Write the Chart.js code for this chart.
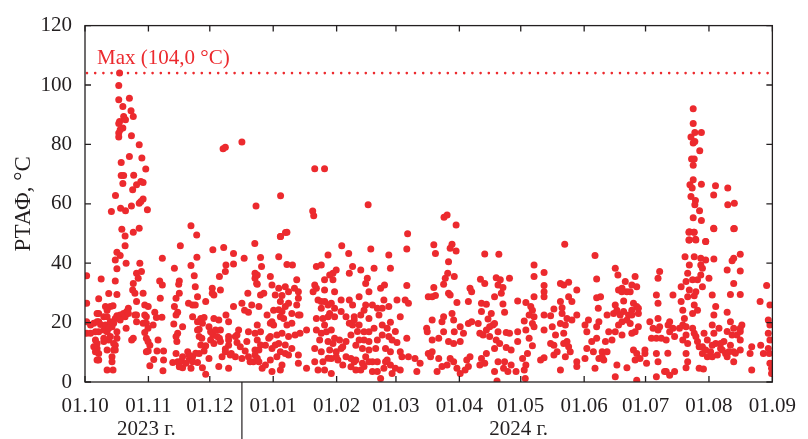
<!DOCTYPE html>
<html>
<head>
<meta charset="utf-8">
<script src="https://cdn.jsdelivr.net/npm/chart.js@4"></script>
<style>
  html, body { margin: 0; padding: 0; background: #ffffff; }
  canvas { display: block; }
</style>
</head>
<body>
<canvas id="c" width="808" height="439"></canvas>
<script>
// ---- DATA ----
// x = day counted from 01.10.2023, y = РТАФ, °C
const monthLabels = ['01.10','01.11','01.12','01.01','01.02','01.03','01.04','01.05','01.06','01.07','01.08','01.09'];
const monthDays   = [0, 31, 61, 92, 123, 152, 183, 213, 244, 274, 305, 336];
const yTickValues = [0, 20, 40, 60, 80, 100, 120];
const yearLabels  = ['2023 г.', '2024 г.'];
const yAxisTitle  = 'РТАФ, °C';
const maxValue    = 104.0;
const maxLabel    = 'Max (104,0 °C)';

// October – mid December (flat pairs: day, value)
const segOctDec = [
18.0,51.4, 19.6,49.2, 23.6,50.4, 26.5,51.8, 19.6,45.9, 15.6,43.7, 17.2,42.6, 14.8,41.1, 15.6,38.1, 20.1,40.0,
14.8,34.0, 0.8,35.8, 7.9,34.7, 26.8,40.0, 25.2,36.6, 27.6,37.2, 26.0,34.9, 23.6,33.2, 23.3,31.0, 24.4,29.9,
28.4,29.9, 25.2,27.1, 29.2,25.9, 30.9,25.4, 30.0,22.0, 24.4,22.6, 25.2,20.3, 28.4,19.8, 33.3,19.2, 34.1,23.5,
37.6,21.8, 34.9,21.7, 29.2,16.7, 30.0,14.7, 31.7,12.4, 35.7,14.1, 30.9,10.4, 35.2,10.4, 38.4,10.4, 33.6,7.6,
38.4,7.4, 31.7,5.5, 38.1,3.8, 37.8,41.7, 36.5,34.0, 37.8,32.7, 36.8,28.2, 46.6,45.9, 43.7,38.3, 46.1,34.0,
45.8,32.9, 46.1,29.9, 44.5,28.2, 43.7,25.4, 45.3,23.5, 44.5,22.6, 43.4,19.5, 47.7,18.6, 45.3,16.4, 44.9,13.6,
44.5,9.6, 45.3,6.8, 47.1,7.1, 47.7,4.8, 50.2,10.2, 51.0,7.7, 52.6,8.5, 51.8,4.6, 57.4,4.8, 55.0,6.6,
59.0,2.6, 50.6,26.5, 52.6,25.9, 53.9,25.9, 55.0,28.7, 53.9,32.1, 51.8,39.2, 54.7,42.0, 53.4,35.8, 52.6,22.0,
55.0,20.3, 56.6,21.4, 58.2,21.7, 55.8,17.8, 57.1,14.7, 59.0,12.2, 58.2,10.4, 55.8,9.6, 60.6,7.9, 59.0,27.1,
62.2,31.6, 63.0,29.3, 66.2,31.0, 65.7,35.5, 68.6,37.2, 68.9,39.4, 72.6,39.7, 72.6,43.3, 67.8,45.3, 62.5,44.5,
77.8,41.7, 79.6,29.9, 83.1,36.6, 83.9,33.2, 83.1,34.9, 81.5,25.9, 79.9,23.5, 76.7,26.5, 78.0,24.2, 72.6,25.4,
68.9,22.6, 70.2,20.3, 65.4,20.9, 63.0,21.4, 60.6,18.6, 61.4,16.9, 62.5,15.8, 63.8,17.5, 65.7,14.7, 70.2,15.3,
74.3,15.8, 75.1,17.5, 79.9,16.9, 83.1,16.4, 79.1,13.6, 75.9,11.9, 74.3,13.3, 70.2,12.4, 68.6,11.1, 71.5,9.6,
73.5,8.5, 76.7,7.9, 79.9,8.5, 83.1,9.1, 82.3,6.8, 78.3,10.4, 67.0,8.5, 65.4,5.2, 70.2,4.6, 42.9,6.6,
46.1,5.1, 49.4,6.3, 0.8,26.5, 0.8,20.3, 0.8,16.4, 6.7,28.0, 11.6,29.8, 15.6,29.5, 6.7,23.1, 10.0,25.4,
12.4,25.4, 13.7,25.7, 10.8,24.2, 9.2,22.0, 5.9,20.3, 4.3,19.8, 2.7,19.2, 7.6,19.4, 10.0,19.2, 12.4,20.3,
14.8,21.4, 15.6,22.3, 17.2,22.6, 18.8,23.1, 20.4,23.7, 21.2,24.8, 19.6,22.0, 17.2,20.9, 14.0,19.8, 13.2,18.6,
10.8,16.9, 9.2,17.5, 6.7,16.9, 5.1,16.9, 5.1,14.1, 5.9,11.3, 6.7,9.6, 5.9,7.4, 9.2,13.6, 11.6,14.1,
12.4,15.3, 15.6,16.9, 15.6,14.7, 14.8,12.4, 14.0,10.8, 10.8,10.8, 13.2,8.5, 13.2,6.8, 10.8,4.0, 13.7,4.0,
20.1,18.1, 22.8,14.1, 30.0,10.2, 51.8,52.6, 54.6,49.5, 83.0,46.6, 98.0,50.3, 95.6,49.0
];

// extra low-band readings, October – November
const segOctNovLow = [
62.2,29.9, 5.9,23.1, 10.8,22.0, 6.7,20.3, 21.2,23.1, 25.2,22.6, 29.2,22.6, 30.0,19.8, 57.4,19.8, 55.0,17.5,
64.6,15.3, 66.2,17.5, 73.5,15.3, 70.2,14.1, 66.2,13.6, 68.6,10.2, 71.0,9.1, 83.1,10.8, 80.7,6.8, 52.6,6.8,
54.1,9.7, 56.6,12.5, 61.4,14.1, 63.0,13.0, 55.8,15.3, 44.5,15.3, 47.7,8.5, 50.9,9.1, 30.8,18.1, 30.8,13.6,
23.6,14.7, 14.0,13.0, 9.2,14.7, 5.9,13.0, 4.3,11.9, 5.1,10.2, 6.7,7.4, 14.8,10.8, 2.7,16.4, 11.6,18.1
];

// October peak and isolated high values (Oct – Apr)
const segHighWinter = [
16.9,104.0, 16.5,99.8, 16.5,95.0, 21.7,95.5, 18.5,92.8, 22.5,91.3, 23.6,89.4, 18.9,89.4, 16.9,87.7, 19.8,88.3,
16.5,87.0, 18.5,85.5, 17.2,84.9, 16.5,83.8, 16.5,82.5, 22.7,82.9, 26.5,79.9, 27.8,75.4, 21.7,75.9, 17.7,73.9,
29.7,71.7, 17.7,69.5, 18.9,69.5, 23.8,69.6, 25.2,66.4, 28.4,67.2, 27.3,67.5, 18.5,66.8, 23.3,64.7, 14.9,62.8,
28.4,61.6, 17.4,58.5, 19.8,57.7, 22.7,59.3, 26.5,60.2, 27.3,60.8, 30.5,58.0, 12.9,57.4, 67.5,78.5, 68.6,79.0,
76.7,80.8, 83.6,59.3, 95.6,62.7, 112.3,71.8, 117.1,71.8, 111.3,57.6, 111.8,56.0, 138.4,59.7, 175.5,55.5, 177.0,56.2
];

// mid December – early March
const segDecMar = [
95.5,49.0, 98.7,50.4, 85.8,41.9, 86.3,38.9, 84.2,36.0, 84.2,32.9, 85.8,29.3, 87.4,29.9, 85.0,25.4, 84.2,19.2,
85.8,16.9, 84.2,14.1, 85.0,10.8, 84.2,8.0, 86.6,4.6, 91.4,3.5, 95.5,4.0, 94.7,42.2, 98.7,39.6, 101.4,39.4,
90.6,35.5, 91.4,32.7, 94.7,31.6, 97.9,32.1, 103.5,34.4, 102.4,31.6, 104.3,30.4, 93.0,29.3, 96.3,29.1, 89.0,22.6,
92.2,24.2, 95.5,27.1, 97.9,25.4, 99.5,26.5, 103.5,25.9, 101.1,23.1, 96.3,23.7, 95.5,22.0, 105.1,22.6, 92.2,19.2,
90.6,19.8, 98.7,19.2, 102.7,15.8, 105.1,16.4, 108.3,17.5, 99.5,15.3, 93.8,15.8, 89.8,14.7, 88.2,12.4, 91.4,11.3,
94.7,13.0, 97.9,9.6, 93.8,8.5, 90.6,7.4, 88.2,5.7, 101.1,11.3, 104.3,9.1, 104.3,6.3, 108.3,4.6, 112.3,32.7,
113.1,31.6, 113.1,38.9, 115.5,39.4, 118.8,42.8, 117.1,34.4, 119.6,36.0, 121.2,36.6, 122.8,37.7, 121.2,34.4, 117.1,31.0,
122.0,30.4, 113.9,27.6, 115.5,27.1, 118.8,25.9, 122.0,24.8, 125.2,27.6, 113.1,21.4, 116.3,21.4, 119.6,23.1, 122.0,22.0,
117.1,19.2, 118.0,16.9, 120.4,17.5, 113.1,17.5, 122.0,14.7, 124.4,14.1, 118.8,13.6, 114.7,14.1, 112.3,11.3, 115.5,10.2,
119.6,10.8, 122.8,10.2, 125.2,11.3, 112.3,6.8, 116.3,6.8, 120.4,7.9, 123.6,7.4, 120.4,2.9, 117.1,4.0, 125.5,45.9,
128.9,43.3, 129.2,36.6, 130.8,38.9, 134.8,37.7, 138.0,34.9, 137.2,33.2, 139.7,44.8, 141.3,38.3, 129.2,27.6, 130.8,25.9,
134.0,28.7, 137.2,25.9, 140.5,25.9, 136.4,24.2, 131.6,22.0, 134.8,22.6, 138.8,21.4, 143.7,22.6, 145.3,24.8, 144.5,31.6,
146.4,32.7, 146.1,27.6, 148.5,25.4, 148.5,42.8, 149.3,38.3, 152.5,27.6, 156.5,27.6, 158.1,26.5, 157.3,32.5, 157.3,44.8,
157.7,49.9, 130.8,19.2, 134.0,19.2, 136.4,16.9, 138.8,16.9, 141.3,18.1, 145.3,19.2, 147.7,18.1, 149.3,20.1, 148.5,15.3,
145.3,15.8, 142.9,14.1, 136.4,14.1, 130.0,15.8, 127.6,13.6, 132.4,12.4, 135.6,11.3, 138.8,10.8, 142.1,11.3, 146.9,11.3,
149.3,10.2, 152.5,13.3, 157.3,14.7, 154.1,10.2, 154.9,8.5, 158.1,8.5, 161.3,7.9, 163.8,6.3, 162.2,3.5, 127.6,8.5,
130.0,7.9, 132.4,7.4, 135.6,6.3, 138.8,6.8, 142.9,6.8, 146.9,6.8, 149.3,5.7, 151.7,4.6, 150.1,2.9, 144.5,1.2,
140.5,3.5, 134.8,4.0, 130.0,5.1, 126.0,5.7, 167.0,18.1, 167.8,9.6, 167.8,28.7
];

// extra low-band readings, mid December – February
const segDecFebLow = [
99.5,30.4, 104.3,28.2, 111.5,30.4, 117.2,27.1, 138.8,30.4, 154.1,22.0, 91.4,20.3, 85.8,12.5, 85.0,6.8, 96.3,5.7,
99.5,9.1, 113.9,4.0, 118.8,8.0, 121.2,13.0, 126.0,11.9, 122.8,8.5, 115.5,16.4, 118.8,22.0, 125.2,23.7, 127.6,22.0,
129.2,19.8, 131.6,20.9, 115.5,24.8, 120.4,26.5, 133.2,17.0, 134.0,14.1, 138.8,13.6, 137.2,8.5, 136.4,5.2, 131.6,6.8,
132.4,4.0, 140.5,6.8, 142.9,3.5, 146.1,4.6, 147.7,7.4, 150.1,14.1, 151.7,17.0, 142.9,24.8, 154.1,4.0, 96.3,16.4,
101.1,19.8, 97.1,21.4, 94.7,24.3, 104.3,22.6, 93.0,12.5, 95.5,10.2, 97.9,12.5, 90.6,15.3
];

// March – early June
const segMarJun = [
181.4,52.9, 170.5,46.2, 171.3,43.3, 179.4,46.4, 178.5,45.0, 181.4,44.1, 177.7,40.5, 177.3,36.6, 180.5,35.5, 176.1,34.9,
175.3,32.9, 170.5,31.8, 171.3,29.1, 169.7,28.7, 177.7,29.9, 178.5,29.3, 181.8,26.8, 195.4,43.1, 202.3,43.0, 193.3,34.6,
195.4,33.2, 201.0,35.1, 203.0,34.4, 201.9,32.7, 204.3,31.8, 207.5,34.9, 188.2,31.6, 189.0,30.4, 187.4,27.1, 200.2,28.7,
203.5,29.9, 204.3,26.3, 193.8,26.5, 196.2,26.2, 193.8,23.7, 198.6,23.1, 205.1,23.5, 211.5,27.3, 219.5,39.4, 219.5,35.5,
224.4,36.9, 224.4,32.5, 224.4,30.4, 224.4,28.7, 219.5,28.7, 215.5,26.8, 217.9,25.4, 218.7,24.2, 217.1,22.6, 219.5,22.0,
214.7,20.5, 218.7,19.7, 219.5,18.6, 224.4,17.5, 215.5,17.5, 211.5,16.9, 205.9,16.7, 207.5,16.4, 201.9,16.9, 199.4,19.2,
197.8,18.6, 196.2,17.5, 193.0,16.4, 194.6,15.8, 197.8,15.3, 201.0,14.1, 202.7,13.0, 200.2,11.3, 205.9,11.6, 208.3,10.8,
211.5,13.6, 217.1,14.7, 218.7,12.2, 216.3,9.6, 213.9,7.9, 215.5,5.7, 214.7,4.0, 215.2,1.2, 210.7,3.5, 208.3,5.7,
206.7,3.5, 204.6,4.6, 205.1,6.8, 201.9,6.8, 200.2,3.5, 201.4,0.3, 196.2,9.6, 193.8,7.9, 195.4,6.3, 193.0,5.7,
188.2,8.5, 186.6,7.4, 187.4,5.2, 185.8,4.0, 183.4,2.9, 181.8,4.6, 180.2,6.8, 178.5,7.9, 177.0,5.7, 174.5,5.2,
172.1,3.5, 172.9,7.9, 168.9,8.5, 169.7,10.2, 167.3,16.9, 169.7,14.1, 169.7,20.9, 174.5,20.3, 175.3,22.0, 179.4,23.1,
180.2,20.9, 183.4,18.6, 185.0,16.4, 180.5,16.9, 175.3,16.9, 172.9,14.7, 177.7,13.6, 180.2,13.0, 183.4,13.6, 187.4,19.7,
189.0,20.3, 192.2,19.7, 197.0,21.2, 200.2,19.7, 224.4,22.6, 222.7,7.4, 224.4,8.2, 229.2,12.4, 227.6,13.0, 229.2,9.1,
230.8,10.2, 232.4,4.0, 234.8,8.5, 237.2,10.2, 240.4,6.8, 240.4,5.2, 244.4,7.9, 248.5,10.2, 249.3,4.6, 247.7,13.6,
245.3,11.3, 245.3,16.9, 244.4,19.2, 246.1,20.9, 250.1,14.7, 250.1,18.6, 250.9,24.8, 250.1,28.4, 250.1,34.7, 249.3,42.6,
234.5,46.4, 240.4,31.0, 236.4,28.7, 232.4,27.1, 234.0,32.7, 232.4,33.2, 236.4,33.6, 233.2,25.0, 229.2,24.6, 227.6,22.3,
233.2,23.1, 235.6,21.4, 238.0,20.9, 232.4,19.7, 234.8,19.2, 234.0,16.4, 235.6,13.6, 236.4,11.9, 234.0,13.0, 240.4,22.6,
238.0,27.1, 228.4,18.6, 230.0,15.8
];

// June – September
const segJunSep = [
252.0,28.7, 251.2,20.3, 255.2,22.6, 258.4,23.1, 259.2,25.9, 260.0,24.2, 261.6,22.6, 263.3,23.7, 265.7,22.6, 267.3,24.2,
268.1,26.5, 269.7,25.4, 270.5,23.1, 263.3,27.3, 264.9,30.4, 262.5,31.6, 260.8,31.0, 264.1,33.8, 267.3,32.7, 269.7,32.1,
268.9,35.5, 260.5,36.0, 259.2,38.3, 260.8,19.2, 262.5,20.3, 264.9,20.9, 266.5,19.7, 270.5,18.6, 268.9,16.9, 267.3,16.4,
262.5,15.8, 259.2,16.9, 256.0,16.9, 254.4,13.6, 257.6,14.1, 252.8,10.2, 255.2,10.2, 253.6,7.4, 251.2,7.9, 260.0,5.7,
259.2,1.8, 264.9,4.8, 269.7,0.6, 268.1,10.8, 269.7,9.6, 271.3,7.9, 268.9,7.4, 273.7,9.6, 274.5,6.3, 273.7,10.8,
276.1,20.3, 280.1,21.4, 280.9,18.6, 276.9,14.7, 279.3,14.7, 281.7,14.7, 284.1,14.1, 279.3,9.6, 280.1,6.8, 283.3,3.5,
285.8,2.3, 279.3,1.8, 288.2,3.5, 285.0,19.2, 285.8,16.9, 285.8,20.3, 280.9,37.2, 280.1,34.9, 279.3,29.3, 280.1,26.5,
287.4,29.3, 291.4,32.1, 293.8,33.8, 293.3,42.2, 295.4,39.4, 297.8,42.2, 295.4,50.6, 297.8,50.4, 295.4,47.8, 298.6,47.8,
303.4,47.3, 307.4,51.6, 317.1,51.6, 301.0,41.7, 303.4,41.1, 301.0,39.4, 307.4,41.4, 316.3,40.8, 317.1,41.7, 320.3,43.0,
320.3,37.4, 313.9,37.7, 317.1,33.2, 320.3,29.5, 315.5,29.5, 306.6,29.3, 308.3,25.4, 307.4,22.6, 313.9,23.5, 315.5,20.3,
320.3,18.1, 321.1,19.2, 318.7,15.8, 316.3,15.8, 312.3,13.6, 308.3,13.0, 310.7,11.3, 313.1,9.6, 315.5,12.4, 317.1,10.2,
320.3,14.1, 320.3,10.8, 325.9,11.9, 325.1,9.6, 325.9,4.0, 330.3,12.4, 331.6,9.6, 330.0,27.1, 333.2,32.5, 334.8,25.9,
334.0,20.9, 334.8,19.2, 334.0,16.4, 334.8,14.1, 334.0,11.3, 334.5,9.6, 334.8,6.3, 335.6,4.6, 335.6,2.9, 291.4,27.1,
294.6,36.6, 297.0,34.4, 295.4,31.0, 294.6,28.7, 292.2,24.2, 293.0,21.4, 292.2,19.2, 290.6,18.1, 293.8,15.8, 294.6,13.0,
293.8,9.6, 294.6,6.8, 293.8,4.8, 297.0,18.1, 297.8,16.4, 299.4,13.6, 300.2,11.9, 300.2,4.6, 302.3,4.4, 301.8,9.6,
303.4,10.8, 304.2,8.5, 305.8,10.2, 306.6,8.5, 309.1,9.1, 306.6,12.4, 301.0,36.0, 301.8,38.3, 299.4,34.4, 305.0,34.9,
297.8,25.9, 299.4,24.2, 297.0,23.1, 301.8,32.1, 298.6,30.4, 287.4,18.1, 288.2,15.3, 277.7,18.1, 292.2,14.1, 306.6,19.2,
309.9,18.1
];

// extra low-band readings, June – August
const segJunAugLow = [
262.4,30.4, 266.5,30.4, 297.8,29.0, 270.5,24.8, 267.3,22.6, 284.1,3.5, 284.9,9.7, 293.8,18.6, 298.6,15.3, 301.8,11.9,
310.7,13.0, 311.5,10.8, 313.9,8.5, 314.7,10.2, 317.1,6.8, 317.9,9.7, 320.3,17.0, 317.1,18.1, 313.9,17.0, 307.4,16.4,
302.6,16.4, 304.2,14.1, 280.1,17.5, 252.8,8.5
];

// August peak
const segAugPeak = [
297.3,92.0, 297.3,87.0, 298.1,84.0, 301.3,84.0, 296.2,82.5, 298.1,81.0, 297.3,80.5, 300.5,77.9, 296.5,75.1, 297.8,75.1,
297.3,73.0, 295.7,66.4, 297.3,68.1, 296.8,65.3, 301.3,66.6, 308.2,66.1, 314.2,65.3, 296.2,62.5, 298.4,61.1, 298.1,59.7,
307.3,63.0, 314.2,59.7, 317.4,60.2, 300.4,57.7, 297.3,55.3, 301.3,54.4, 307.3,51.8, 317.4,51.7, 295.2,50.4, 297.6,50.4,
295.2,47.8, 298.4,48.1, 303.4,47.3
];

// ---- build points from the arrays ----
function pairs(arr) {
  const out = [];
  for (let i = 0; i < arr.length; i += 2) out.push({ x: arr[i], y: arr[i + 1] });
  return out;
}
const points = [].concat(
  pairs(segOctDec), pairs(segOctNovLow), pairs(segHighWinter), pairs(segDecMar), pairs(segDecFebLow),
  pairs(segMarJun), pairs(segJunSep), pairs(segJunAugLow), pairs(segAugPeak)
);

// ---- styling ----
const RED = '#ec2a2e';
const INK = '#231f20';
const FONT = '"Liberation Serif", "Times New Roman", serif';

const framePlugin = {
  id: 'frame',
  beforeDatasetsDraw(chart) {
    const { ctx, chartArea: a, scales: { y } } = chart;
    const yMax = y.getPixelForValue(maxValue);
    ctx.save();
    ctx.strokeStyle = RED;
    ctx.lineWidth = 2.6;
    ctx.lineCap = 'round';
    ctx.setLineDash([0, 8.2]);
    ctx.beginPath();
    ctx.moveTo(a.left + 2, yMax);
    ctx.lineTo(a.right, yMax);
    ctx.stroke();
    ctx.setLineDash([]);
    ctx.fillStyle = RED;
    ctx.font = '21px ' + FONT;
    ctx.textAlign = 'left';
    ctx.textBaseline = 'alphabetic';
    ctx.fillText(maxLabel, a.left + 12, yMax - 9);
    ctx.restore();
  },
  afterDraw(chart) {
    const { ctx, chartArea: a, scales: { x, y } } = chart;
    const opts = chart.options.plugins.frame;
    ctx.save();
    ctx.strokeStyle = INK;
    ctx.lineWidth = 1.3;
    ctx.strokeRect(a.left, a.top, a.right - a.left, a.bottom - a.top);
    const tl = 6;
    ctx.beginPath();
    monthDays.forEach(d => {
      const px = x.getPixelForValue(d);
      ctx.moveTo(px, a.bottom); ctx.lineTo(px, a.bottom - tl);
      ctx.moveTo(px, a.top); ctx.lineTo(px, a.top + tl);
    });
    yTickValues.forEach(v => {
      const py = y.getPixelForValue(v);
      ctx.moveTo(a.left, py); ctx.lineTo(a.left + tl, py);
      ctx.moveTo(a.right, py); ctx.lineTo(a.right - tl, py);
    });
    ctx.stroke();
    // year separator
    const sx = x.getPixelForValue(opts.yearSplitDay);
    ctx.lineWidth = 1.2;
    ctx.beginPath();
    ctx.moveTo(sx, a.bottom);
    ctx.lineTo(sx, chart.height);
    ctx.stroke();
    // year labels
    ctx.fillStyle = INK;
    ctx.font = '21px ' + FONT;
    ctx.textAlign = 'center';
    ctx.textBaseline = 'alphabetic';
    yearLabels.forEach((t, i) => {
      ctx.fillText(t, x.getPixelForValue(opts.yearLabelDays[i]), opts.yearBaseline);
    });
    ctx.restore();
  }
};

new Chart(document.getElementById('c'), {
  type: 'scatter',
  data: {
    datasets: [{
      data: points,
      backgroundColor: RED,
      borderColor: RED,
      borderWidth: 0,
      pointRadius: 3.5,
      pointHoverRadius: 3.5
    }]
  },
  options: {
    responsive: false,
    animation: false,
    events: [],
    layout: { padding: { left: 0, right: 26, top: 25, bottom: 0 } },
    plugins: {
      legend: { display: false },
      tooltip: { enabled: false },
      frame: { yearSplitDay: 76.7, yearLabelDays: [30, 212], yearBaseline: 435 }
    },
    scales: {
      x: {
        type: 'linear',
        min: monthDays[0],
        max: monthDays[monthDays.length - 1],
        afterBuildTicks: s => { s.ticks = monthDays.map(v => ({ value: v })); },
        afterFit: s => { s.height = 57; },
        grid: { display: false, drawTicks: false },
        border: { display: false },
        ticks: {
          autoSkip: false, maxRotation: 0, minRotation: 0,
          padding: 12,
          color: INK,
          font: { family: FONT, size: 21 },
          callback: (v, i) => monthLabels[i]
        }
      },
      y: {
        min: 0, max: 120,
        afterBuildTicks: s => { s.ticks = yTickValues.map(v => ({ value: v })); },
        afterFit: s => { s.width = 85; },
        grid: { display: false, drawTicks: false },
        border: { display: false },
        ticks: {
          padding: 13,
          color: INK,
          font: { family: FONT, size: 21 },
          callback: v => String(v)
        },
        title: {
          display: true,
          text: yAxisTitle,
          color: INK,
          font: { family: FONT, size: 23 },
          padding: { top: 10, bottom: 0 }
        }
      }
    }
  },
  plugins: [framePlugin]
});
</script>
</body>
</html>
